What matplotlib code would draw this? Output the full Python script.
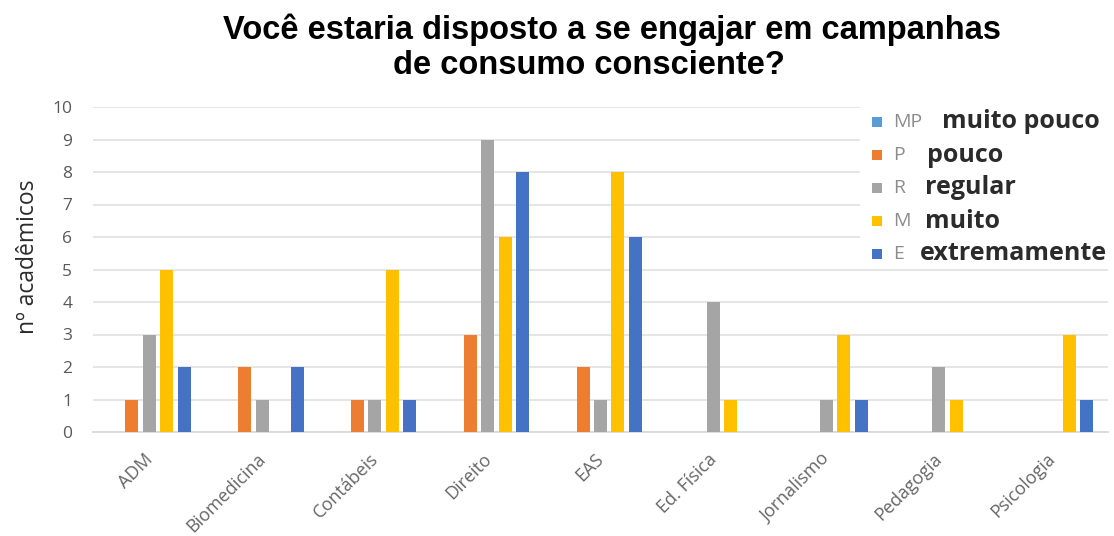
import numpy as np
import matplotlib
matplotlib.use("Agg")
from matplotlib import pyplot as plt
from matplotlib.patches import Rectangle
from matplotlib.transforms import IdentityTransform

W, H = 1114, 536

cursos = ["ADM", "Biomedicina", "Contábeis", "Direito", "EAS",
          "Ed. Física", "Jornalismo", "Pedagogia", "Psicologia"]
muito_pouco = [0, 0, 0, 0, 0, 0, 0, 0, 0]
pouco = [1, 2, 1, 3, 2, 0, 0, 0, 0]
regular = [3, 1, 1, 9, 1, 4, 1, 2, 0]
muito = [5, 0, 5, 6, 8, 1, 3, 1, 3]
extremamente = [2, 2, 1, 8, 6, 0, 1, 0, 1]

siglas = ["MP", "P", "R", "M", "E"]
nomes = ["muito pouco", "pouco", "regular", "muito", "extremamente"]
cores = ["#5B9BD5", "#ED7D31", "#A5A5A5", "#FFC000", "#4472C4"]
series = [muito_pouco, pouco, regular, muito, extremamente]

fig = plt.figure(figsize=(W / 100, H / 100), dpi=100)
ax = fig.add_axes([93 / W, 104 / H, (1108 - 93) / W, (429 - 104) / H])

x = np.arange(len(cursos))
passo = 0.155
largura = 0.115
for i, vals in enumerate(series):
    ax.bar(x + (i - 2) * passo, vals, width=largura, color=cores[i],
           linewidth=0, zorder=3)

ax.set_xlim(-0.5, len(cursos) - 0.5)
ax.set_ylim(0, 10)
ax.set_yticks(range(0, 11))
ax.yaxis.grid(True, color="#e3e3e3", linewidth=1.3, zorder=0)
for s in ["top", "right", "left"]:
    ax.spines[s].set_visible(False)
ax.spines["bottom"].set_color("#d9d9d9")
ax.spines["bottom"].set_linewidth(1.3)
ax.tick_params(axis="both", length=0, colors="#595959")
ax.tick_params(axis="y", pad=15, labelsize=12.5)

ax.set_xticks(x - 0.05)
ax.set_xticklabels(cursos, rotation=45, ha="right", va="top",
                   rotation_mode="anchor", fontsize=13, family="Open Sans",
                   color="#666666")
ax.tick_params(axis="x", pad=13)
for t in ax.get_yticklabels():
    t.set_family("Open Sans")

ax.set_ylabel("nº acadêmicos", family="Open Sans", fontsize=16.5,
              color="#2b2b2b", fontweight="medium")
ax.yaxis.set_label_coords(-53 / (1108 - 93), 0.54)

fig.text(612 / W, 1 - 30 / H, "Você estaria disposto a se engajar em campanhas",
         ha="center", va="center", fontsize=23.5, fontweight="bold",
         family="Liberation Sans")
fig.text(589 / W, 1 - 65 / H, "de consumo consciente?",
         ha="center", va="center", fontsize=23.5, fontweight="bold",
         family="Liberation Sans")

# legenda desenhada a mao, sobre a area do grafico
px = IdentityTransform()
fig.patches.append(Rectangle((860, H - 264), W - 860, 160, transform=px,
                             facecolor="white", edgecolor="none", zorder=5))
linhas_y = [122, 155, 188, 221, 254]
x_nome = [942, 927, 925, 925, 920]
for i in range(5):
    yc = H - linhas_y[i]
    fig.patches.append(Rectangle((872, yc - 5), 10, 10, transform=px,
                                 facecolor=cores[i], edgecolor="none", zorder=6))
    fig.text(893 / W, yc / H, siglas[i], ha="left", va="center",
             fontsize=14, color="#8c8c8c", family="Open Sans", zorder=7)
    fig.text(x_nome[i] / W, yc / H, nomes[i], ha="left", va="center",
             fontsize=18, fontweight="bold", color="#2b2b2b",
             family="Open Sans", zorder=7)

fig.savefig("out.png", dpi=100)
